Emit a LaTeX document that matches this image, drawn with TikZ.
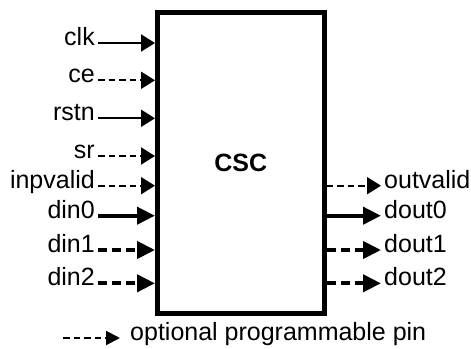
\documentclass[tikz,border=0pt]{standalone}
\usepackage{fontspec}
\setmainfont{Liberation Sans}
\usetikzlibrary{arrows.meta}

\begin{document}
\begin{tikzpicture}[every node/.style={font=\fontsize{25}{29}\selectfont},x=1pt,y=1pt]
  \tikzset{
    block/.style={draw,line width=5pt,minimum width=166.5pt,minimum height=301pt,inner sep=0pt},
    pinlabel/.style={inner sep=3pt},
    reqpin/.style={line width=2pt,-{Triangle[length=14pt,width=17pt]}}, % single wire
    optpin/.style={reqpin,dash pattern=on 6.5pt off 4pt}, % optional wire
    buspin/.style={line width=4pt,-{Triangle[length=18pt,width=17pt]}}, % data bus
    optbus/.style={buspin,dash pattern=on 9pt off 5pt}, % optional bus
    legpin/.style={line width=2pt,dash pattern=on 6.5pt off 4pt,-{Triangle[length=14pt,width=14pt]}}
  }
  \useasboundingbox (0,0) rectangle (471,348);

  \node[block] (csc) at (240.75,184.9) {\bfseries CSC};

  % inputs
  \node[pinlabel,anchor=mid east] (clk) at (98,305) {clk};
  \node[pinlabel,anchor=mid east] (ce) at (98,267.7) {ce};
  \node[pinlabel,anchor=mid east] (rstn) at (98,229.7) {rstn};
  \node[pinlabel,anchor=mid east] (sr) at (98,192) {sr};
  \node[pinlabel,anchor=mid east] (inpvalid) at (98,162.3) {inpvalid};
  \node[pinlabel,anchor=mid east] (din0) at (98,132.3) {din0};
  \node[pinlabel,anchor=mid east] (din1) at (98,98) {din1};
  \node[pinlabel,anchor=mid east] (din2) at (98,64.7) {din2};

  \draw[reqpin] (clk.mid east) -- (clk.mid east -| csc.west);
  \draw[optpin] (ce.mid east) -- (ce.mid east -| csc.west);
  \draw[reqpin] (rstn.mid east) -- (rstn.mid east -| csc.west);
  \draw[optpin] (sr.mid east) -- (sr.mid east -| csc.west);
  \draw[optpin] (inpvalid.mid east) -- (inpvalid.mid east -| csc.west);
  \draw[buspin] (din0.mid east) -- (din0.mid east -| csc.west);
  \draw[optbus] (din1.mid east) -- (din1.mid east -| csc.west);
  \draw[optbus] (din2.mid east) -- (din2.mid east -| csc.west);

  % outputs
  \node[pinlabel,anchor=mid west] (outvalid) at (381,162.3) {outvalid};
  \node[pinlabel,anchor=mid west] (dout0) at (381,132.3) {dout0};
  \node[pinlabel,anchor=mid west] (dout1) at (381,98) {dout1};
  \node[pinlabel,anchor=mid west] (dout2) at (381,64.7) {dout2};

  \draw[optpin] (outvalid.mid west -| csc.east) -- (outvalid.mid west);
  \draw[buspin] (dout0.mid west -| csc.east) -- (dout0.mid west);
  \draw[optbus] (dout1.mid west -| csc.east) -- (dout1.mid west);
  \draw[optbus] (dout2.mid west -| csc.east) -- (dout2.mid west);

  % legend
  \coordinate (legstart) at (63,10);
  \node[pinlabel,inner xsep=10pt,anchor=mid west] (legend) at (120,10) {optional programmable pin};
  \draw[legpin] (legstart) -- (legend.mid west);
\end{tikzpicture}
\end{document}
